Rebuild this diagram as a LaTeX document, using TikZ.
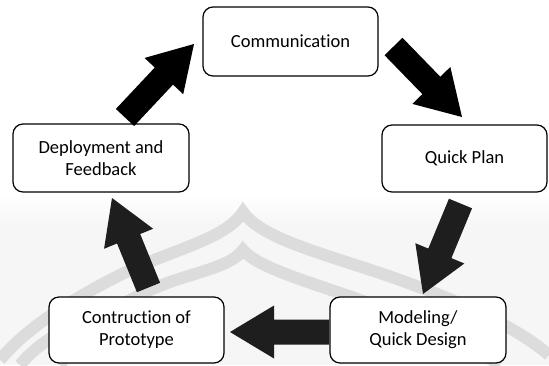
\documentclass[tikz,border=0pt]{standalone}
\usepackage{fontspec}
\setmainfont[Ligatures=NoCommon]{Carlito}
\usetikzlibrary{calc}
\definecolor{arrdark}{HTML}{1E1E1E}
\definecolor{wmband}{HTML}{DCDCDC}
\definecolor{wmback}{HTML}{F6F6F6}
\newcommand\blockarrow[3]{%
  \coordinate (#2b) at ($(#3)!44pt!(#2)$);
  \fill[#1] ($(#2)!12.5pt!90:(#3)$) -- ($(#2b)!12.5pt!90:(#3)$) -- ($(#2b)!26.5pt!90:(#3)$) -- (#3)
    -- ($(#2b)!26.5pt!-90:(#3)$) -- ($(#2b)!12.5pt!-90:(#3)$) -- ($(#2)!12.5pt!-90:(#3)$) -- cycle;
}
\tikzset{
  box/.style={draw=black, line width=1.2pt, rounded corners=10pt, fill=white, align=center,
    inner sep=0pt, font=\fontsize{18.5}{21.8}\selectfont, text=black},
  wm/.style={draw=wmband, line width=12pt, line join=miter, miter limit=20}
}
\begin{document}
\begin{tikzpicture}[x=1pt,y=-1pt]
\useasboundingbox (0,0) rectangle (549,365);
% faint watermark in the background
\shade[top color=white, bottom color=wmback] (0,195) rectangle (549,225);
\fill[wmback] (0,225) rectangle (549,365);
\draw[wm] (0,360) .. controls (20,335) and (60,305) .. (120,275) .. controls (170,250) and (225,240) .. (243,212)
  .. controls (262,240) and (330,255) .. (400,280) .. controls (470,305) and (520,330) .. (549,355);
\draw[wm] (60,365) .. controls (80,330) and (120,300) .. (170,282) .. controls (205,270) and (232,265) .. (243,250)
  .. controls (258,268) and (310,282) .. (360,300) .. controls (420,322) and (470,345) .. (500,365);
\draw[wm] (20,365) .. controls (40,340) and (80,318) .. (117,310);
% boxes
\node[box, minimum width=175pt, minimum height=69pt] (comm) at (290.5,41.5) {Communication};
\node[box, minimum width=176pt, minimum height=68pt] (dep) at (101,158) {Deployment and\\Feedback};
\node[box, minimum width=165pt, minimum height=67pt] (plan) at (464.5,158.5) {Quick Plan};
\node[box, minimum width=175pt, minimum height=66pt] (cons) at (136.5,330) {Contruction of\\Prototype};
\node[box, minimum width=176pt, minimum height=66pt] (model) at (418,330) {Modeling/\\Quick Design};
% arrow ends
\coordinate (a1t) at (125,117.5);  \coordinate (a1h) at (194,44);
\coordinate (a2t) at (393.5,46.5); \coordinate (a2h) at (462,117);
\coordinate (a3t) at (460.5,203.5);\coordinate (a3h) at (423,294);
\coordinate (a4t) at (329,332);    \coordinate (a4h) at (230,332);
\coordinate (a5t) at (148.5,287.5);\coordinate (a5h) at (112,198);
\blockarrow{black}{a1t}{a1h}
\blockarrow{black}{a2t}{a2h}
\blockarrow{arrdark}{a3t}{a3h}
\blockarrow{arrdark}{a4t}{a4h}
\blockarrow{arrdark}{a5t}{a5h}
\end{tikzpicture}
\end{document}
